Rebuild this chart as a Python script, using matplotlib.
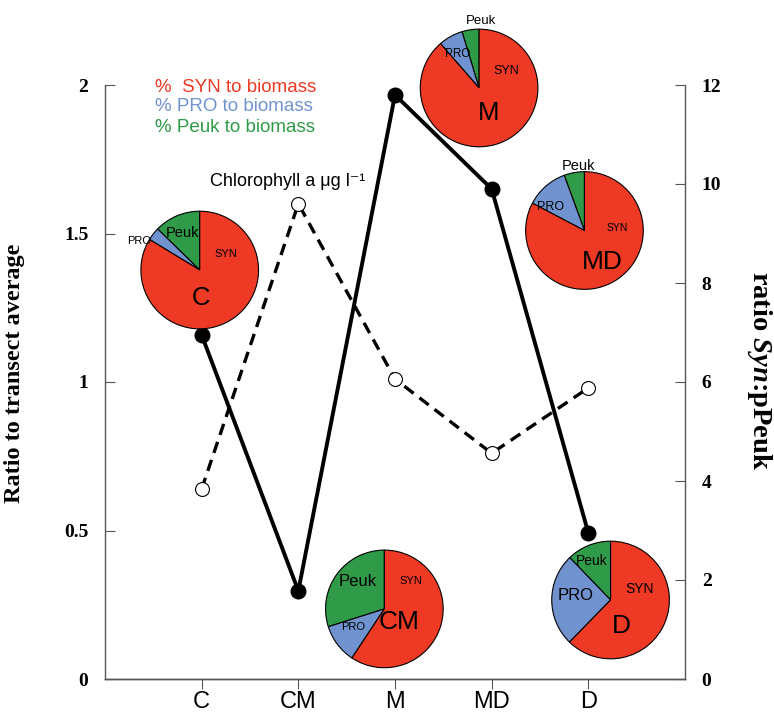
import matplotlib
matplotlib.use("Agg")
import matplotlib.pyplot as plt

# ---------------- data ----------------
stations = ["C", "CM", "M", "MD", "D"]
chl_ratio = [0.64, 1.60, 1.01, 0.76, 0.98]          # ratio to transect average (left axis)
syn_peuk_ratio = [6.95, 1.78, 11.8, 9.9, 2.95]      # ratio Syn:pPeuk (right axis)

# pie fractions (% of biomass)
syn_pct = [83.7, 59.3, 88.6, 82.7, 62.3]
pro_pct = [3.6, 10.8, 6.7, 11.7, 25.5]
peuk_pct = [12.7, 29.9, 4.7, 5.6, 12.2]

left_ticks = [0, 0.5, 1, 1.5, 2]
left_ticklabels = ["0", "0.5", "1", "1.5", "2"]
right_ticks = [0, 2, 4, 6, 8, 10, 12]

# ---------------- style ----------------
RED = "#EE3A24"
BLUE = "#7093CF"
GREEN = "#2F9A47"
SERIF = "Liberation Serif"
SANS = "Liberation Sans"
plt.rcParams["mathtext.fontset"] = "custom"
plt.rcParams["mathtext.rm"] = "Liberation Serif:bold"
plt.rcParams["mathtext.it"] = "Liberation Serif:italic:bold"
plt.rcParams["mathtext.bf"] = "Liberation Serif:bold"

W, H = 774, 717
fig = plt.figure(figsize=(W / 100, H / 100), dpi=100)
L, R, B, T = 105, 685, 679, 85
ax = fig.add_axes([L / W, 1 - B / H, (R - L) / W, (B - T) / H])
ax2 = ax.twinx()

x = list(range(1, len(stations) + 1))

ax.set_xlim(0, 6)
ax.set_ylim(0, 2)
ax2.set_ylim(0, 12)

# dashed chlorophyll line (left axis)
ax.plot(x, chl_ratio, linestyle=(0, (3.5, 2.2)), color="black", lw=2.4,
        marker="o", markersize=10, markerfacecolor="white",
        markeredgecolor="black", markeredgewidth=0.8, zorder=3)

# solid Syn:pPeuk line (right axis)
ax2.plot(x, syn_peuk_ratio, linestyle="-", color="black", lw=2.8,
         marker="o", markersize=10.5, markerfacecolor="black",
         markeredgecolor="black", zorder=3)

# spines / ticks
for a in (ax, ax2):
    a.spines["top"].set_visible(False)
    for s in ("left", "right", "bottom"):
        a.spines[s].set_color("#555555")
        a.spines[s].set_linewidth(1.0)
ax.spines["right"].set_visible(False)
ax2.spines["left"].set_visible(False)

ax.set_yticks(left_ticks)
ax.set_yticklabels(left_ticklabels, fontfamily=SERIF, fontweight="bold", fontsize=14)
ax.tick_params(axis="y", direction="in", length=7, color="#555555", pad=12)
ax2.set_yticks(right_ticks)
ax2.set_yticklabels([str(t) for t in right_ticks], fontfamily=SERIF,
                    fontweight="bold", fontsize=14)
ax2.tick_params(axis="y", direction="in", length=7, color="#555555", pad=12)

ax.set_xticks(x)
ax.set_xticklabels(stations, fontfamily=SANS, fontsize=17)
ax.tick_params(axis="x", direction="out", length=7, color="#555555", pad=2)

ax.set_ylabel("Ratio to transect average", fontfamily=SERIF, fontweight="bold",
              fontsize=17.5)
ax.yaxis.set_label_coords(-0.138, 0.515)
ax2.set_ylabel(r"ratio $\mathit{Syn}$:pPeuk", fontfamily=SERIF, fontweight="bold",
               fontsize=20.5, rotation=270, va="center")
ax2.yaxis.set_label_coords(1.129, 0.52)

# legend-like texts
ax.text(0.086, 0.995, "%  SYN to biomass", transform=ax.transAxes, color=RED,
        fontfamily=SANS, fontsize=13.5, va="center", ha="left")
ax.text(0.086, 0.963, "% PRO to biomass", transform=ax.transAxes, color=BLUE,
        fontfamily=SANS, fontsize=13.5, va="center", ha="left")
ax.text(0.086, 0.928, "% Peuk to biomass", transform=ax.transAxes, color=GREEN,
        fontfamily=SANS, fontsize=13.5, va="center", ha="left")
ax.text(0.181, 0.838, "Chlorophyll a μg l⁻¹", transform=ax.transAxes,
        color="black", fontfamily=[SANS, "DejaVu Sans"], fontsize=13,
        va="center", ha="left")

# ---------------- pies ----------------
# pie centres in data coordinates of the left axis; radius in pixels
pie_centres = [(0.98, 1.377), (2.89, 0.236), (3.87, 1.99), (4.96, 1.51), (5.23, 0.266)]
pie_radius_px = 60
# label layout per pie: (text, x, y, fontsize, ha)
pie_labels = [
    [("Peuk", -0.30, 0.63, 10.5, "center"), ("SYN", 0.45, 0.28, 8, "center"),
     ("PRO", -0.82, 0.50, 8, "right"), ("C", 0.03, -0.47, 18.5, "center")],
    [("Peuk", -0.45, 0.47, 12, "center"), ("SYN", 0.45, 0.47, 8, "center"),
     ("PRO", -0.53, -0.31, 8, "center"), ("CM", 0.25, -0.23, 19, "center")],
    [("Peuk", 0.03, 1.13, 9.5, "center"), ("PRO", -0.37, 0.57, 8.5, "center"),
     ("SYN", 0.47, 0.28, 9, "center"), ("M", 0.17, -0.43, 18.5, "center")],
    [("Peuk", -0.10, 1.10, 10.5, "center"), ("PRO", -0.58, 0.40, 9, "center"),
     ("SYN", 0.55, 0.05, 7.5, "center"), ("MD", 0.31, -0.53, 19, "center")],
    [("Peuk", -0.32, 0.66, 10, "center"), ("PRO", -0.60, 0.07, 12, "center"),
     ("SYN", 0.50, 0.18, 10, "center"), ("D", 0.18, -0.45, 19, "center")],
]

fig.canvas.draw()
for i, (cx, cy) in enumerate(pie_centres):
    px, py = ax.transData.transform((cx, cy))
    r = pie_radius_px
    pax = fig.add_axes([(px - r) / W, (py - r) / H, 2 * r / W, 2 * r / H], zorder=5)
    pax.pie([peuk_pct[i], pro_pct[i], syn_pct[i]], colors=[GREEN, BLUE, RED],
            startangle=90, counterclock=True, radius=1,
            wedgeprops=dict(edgecolor="black", linewidth=0.8))
    pax.set_xlim(-1.02, 1.02)
    pax.set_ylim(-1.02, 1.02)
    pax.set_aspect("equal")
    pax.axis("off")
    for (t, tx, ty, fs, ha) in pie_labels[i]:
        pax.text(tx, ty, t, fontfamily=SANS, fontsize=fs, ha=ha, va="center",
                 color="black", clip_on=False)

fig.savefig("out.png", dpi=100)
